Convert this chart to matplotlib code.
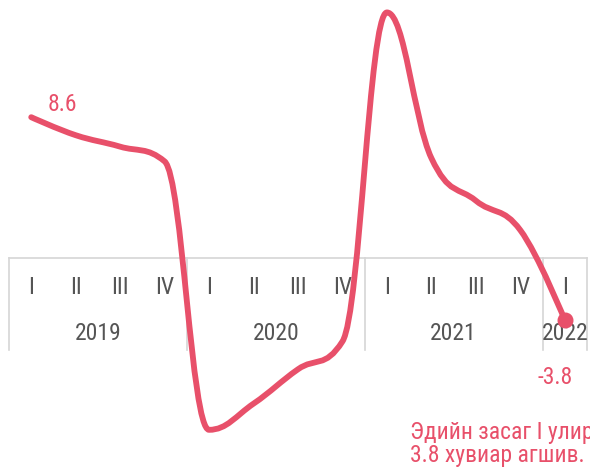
import matplotlib
matplotlib.use('Agg')

import matplotlib.pyplot as plt
from matplotlib.path import Path
from matplotlib.patches import PathPatch
from matplotlib.transforms import blended_transform_factory

# data: real GDP growth, %, by quarter
years = ['2019', '2020', '2021', '2022']
quarters_per_year = [4, 4, 4, 1]
quarter_labels = ['I', 'II', 'III', 'IV', 'I', 'II', 'III', 'IV',
                  'I', 'II', 'III', 'IV', 'I']
growth = [8.6, 7.5, 6.8, 5.9, -10.5, -8.9, -6.8, -5.1,
          15.0, 6.1, 3.5, 1.7, -3.8]
note = 'Эдийн засаг I улиралд\n3.8 хувиар агшив.'

RED = '#e8506a'
GREY_TXT = '#555555'
GRID = '#d6d6d6'
FS = 17


def spline_path(xs, ys, smoothing=1.5):
    # highcharts-like spline: cubic bezier between points
    denom = smoothing + 1
    n = len(xs)
    right = [None] * n
    left = [None] * n
    for i in range(1, n - 1):
        px, py = xs[i], ys[i]
        lx, ly = xs[i - 1], ys[i - 1]
        nx, ny = xs[i + 1], ys[i + 1]
        lcx = (smoothing * px + lx) / denom
        lcy = (smoothing * py + ly) / denom
        rcx = (smoothing * px + nx) / denom
        rcy = (smoothing * py + ny) / denom
        corr = 0
        if rcx != lcx:
            corr = (rcy - lcy) * (rcx - px) / (rcx - lcx) + py - rcy
        lcy += corr
        rcy += corr
        if lcy > ly and lcy > py:
            lcy = max(ly, py)
            rcy = 2 * py - lcy
        elif lcy < ly and lcy < py:
            lcy = min(ly, py)
            rcy = 2 * py - lcy
        if rcy > ny and rcy > py:
            rcy = max(ny, py)
            lcy = 2 * py - rcy
        elif rcy < ny and rcy < py:
            rcy = min(ny, py)
            lcy = 2 * py - rcy
        left[i] = (lcx, lcy)
        right[i] = (rcx, rcy)
    verts = [(xs[0], ys[0])]
    codes = [Path.MOVETO]
    for i in range(1, n):
        c1 = right[i - 1] or (xs[i - 1], ys[i - 1])
        c2 = left[i] or (xs[i], ys[i])
        verts += [c1, c2, (xs[i], ys[i])]
        codes += [Path.CURVE4] * 3
    return Path(verts, codes)


plt.rcParams['font.family'] = ['Roboto Condensed', 'DejaVu Sans']

fig = plt.figure(figsize=(5.9, 4.75), dpi=100)
ax = fig.add_axes([9 / 590, 0, 578 / 590, 1])
ax.set_xlim(-0.5, len(growth) - 0.5)
ax.set_ylim(-13.26, 15.76)
ax.axis('off')

xs = list(range(len(growth)))
ax.add_patch(PathPatch(spline_path(xs, growth), fill=False, edgecolor=RED,
                       lw=4.2, capstyle='round', joinstyle='round',
                       zorder=5, clip_on=False))
ax.plot(xs[-1], growth[-1], 'o', color=RED, ms=10.5, zorder=6, clip_on=False)

ax.annotate(f'{growth[0]:g}', (xs[0], growth[0]), xytext=(31, 13),
            textcoords='offset pixels', ha='center', va='center',
            color=RED, fontsize=FS)
ax.annotate(f'{growth[-1]:g}', (xs[-1], growth[-1]), xytext=(-10, -57),
            textcoords='offset pixels', ha='center', va='center',
            color=RED, fontsize=FS)

# grouped category axis sitting on y = 0
tr = blended_transform_factory(ax.transData, fig.transFigure)
y_top, y_bot = 1 - 258 / 475, 1 - 350 / 475
ax.plot([-0.5, len(growth) - 0.5], [y_top, y_top], color=GRID, lw=1.2,
        transform=tr, clip_on=False, zorder=1)
bounds = [-0.5]
for q in quarters_per_year:
    bounds.append(bounds[-1] + q)
for b in bounds:
    ax.plot([b, b], [y_top, y_bot], color=GRID, lw=1.2, transform=tr,
            clip_on=False, zorder=1)
for x, lab in zip(xs, quarter_labels):
    ax.text(x, 1 - 287 / 475, lab, transform=tr, ha='center', va='center',
            color=GREY_TXT, fontsize=FS)
for i, yr in enumerate(years):
    ax.text((bounds[i] + bounds[i + 1]) / 2, 1 - 333 / 475, yr, transform=tr,
            ha='center', va='center', color=GREY_TXT, fontsize=FS)

fig.text(410 / 590, 1 - 444 / 475, note, ha='left', va='center', color=RED,
         fontsize=FS, linespacing=1.0)

fig.savefig('out.png', dpi=100)
